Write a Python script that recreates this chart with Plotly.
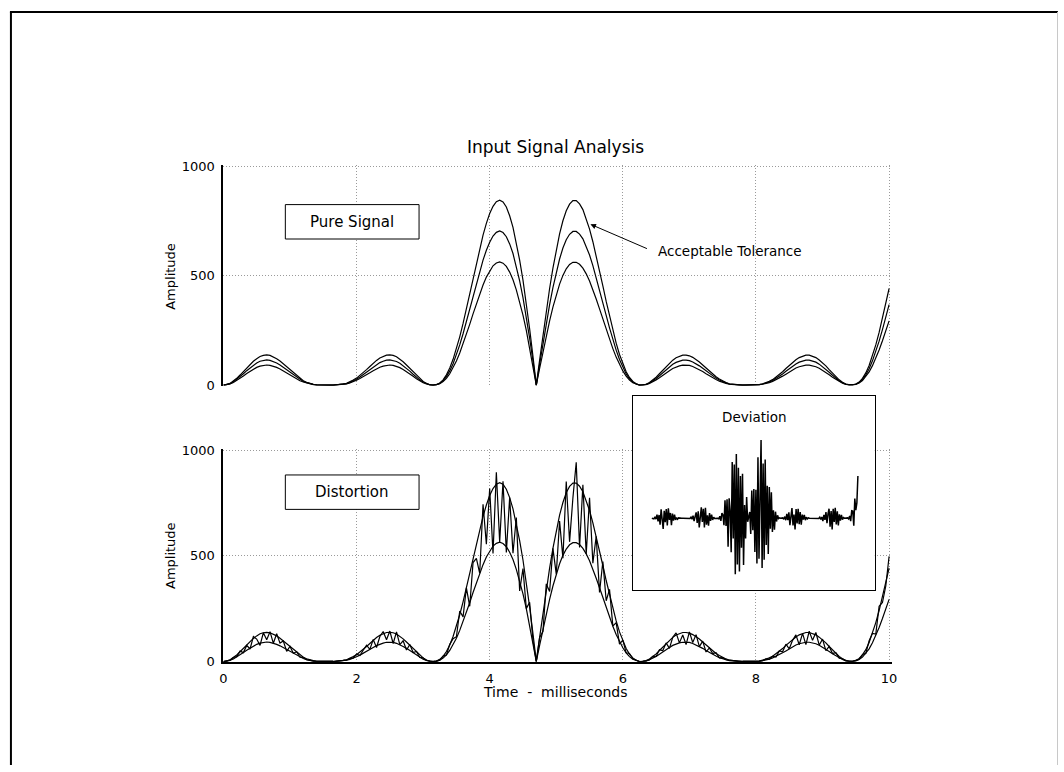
import numpy as np
import plotly.graph_objects as go

W, H = 1064, 772

# sample times (ms), 0.05 ms spacing
time_ms = np.linspace(0, 10, 201)

# nominal signal amplitude
pure_signal = [
    0, 2, 7, 15, 26, 38, 52, 66, 79, 91, 101, 109, 113, 115, 113, 108, 101, 92, 81, 69, 57, 46, 35, 25, 17, 11, 6, 3, 1, 0, 0, 0,
    0, 0, 1, 2, 4, 7, 12, 19, 27, 37, 48, 59, 71, 83, 94, 103, 109, 114, 115, 113, 108, 100, 89, 77, 64, 50, 36, 24, 14, 6, 1,
    0, 2, 8, 20, 39, 65, 98, 138, 184, 235, 290, 348, 407, 465, 521, 572, 617, 654, 682, 699, 705, 698, 679, 646, 602, 545, 477, 400, 312, 215, 110, 0,
    95, 190, 282, 368, 446, 516, 577, 627, 665, 690, 703, 703, 691, 669, 636, 595, 547, 493, 436, 378, 319, 262, 209, 160, 117, 81, 51, 29, 14, 5, 0,
    1, 3, 10, 19, 30, 43, 57, 70, 83, 95, 104, 110, 114, 114, 112, 106, 98, 88, 77, 65, 53, 42, 32, 23, 15, 10, 5, 3, 1, 0, 0, 0,
    0, 0, 1, 2, 5, 9, 14, 21, 30, 40, 51, 63, 75, 87, 97, 105, 111, 114, 114, 111, 105, 96, 85, 73, 59, 45, 32, 20, 11, 4, 1,
    1, 4, 12, 26, 47, 75, 111, 153, 201, 254, 310, 368,
]

# upper tolerance limit
tolerance_high = [
    0, 2, 8, 18, 31, 46, 62, 79, 95, 109, 121, 131, 136, 138, 136, 130, 121, 110, 97, 83, 68, 55, 42, 30, 20, 13, 7, 4, 1, 0, 0, 0,
    0, 0, 1, 2, 5, 8, 14, 23, 32, 44, 58, 71, 85, 100, 113, 124, 131, 137, 138, 136, 130, 120, 107, 92, 77, 60, 43, 29, 17, 7, 1,
    0, 2, 10, 24, 47, 78, 118, 166, 221, 282, 348, 418, 488, 558, 625, 686, 740, 785, 818, 839, 846, 838, 815, 775, 722, 654, 572, 480, 374, 258, 132, 0,
    114, 228, 338, 442, 535, 619, 692, 752, 798, 828, 844, 844, 829, 803, 763, 714, 656, 592, 523, 454, 383, 314, 251, 192, 140, 97, 61, 35, 17, 6, 0,
    1, 4, 12, 23, 36, 52, 68, 84, 100, 114, 125, 132, 137, 137, 134, 127, 118, 106, 92, 78, 64, 50, 38, 28, 18, 12, 6, 4, 1, 0, 0, 0,
    0, 0, 1, 2, 6, 11, 17, 25, 36, 48, 61, 76, 90, 104, 116, 126, 133, 137, 137, 133, 126, 115, 102, 88, 71, 54, 38, 24, 13, 5, 1,
    1, 5, 14, 31, 56, 90, 133, 184, 241, 305, 372, 442,
]

# lower tolerance limit
tolerance_low = [
    0, 2, 6, 12, 21, 30, 42, 53, 63, 73, 81, 87, 90, 92, 90, 86, 81, 74, 65, 55, 46, 37, 28, 20, 14, 9, 5, 2, 1, 0, 0, 0,
    0, 0, 1, 2, 3, 6, 10, 15, 22, 30, 38, 47, 57, 66, 75, 82, 87, 91, 92, 90, 86, 80, 71, 62, 51, 40, 29, 19, 11, 5, 1,
    0, 2, 6, 16, 31, 52, 78, 110, 147, 188, 232, 278, 326, 372, 417, 458, 494, 523, 546, 559, 564, 558, 543, 517, 482, 436, 382, 320, 250, 172, 88, 0,
    76, 152, 226, 294, 357, 413, 462, 502, 532, 552, 562, 562, 553, 535, 509, 476, 438, 394, 349, 302, 255, 210, 167, 128, 94, 65, 41, 23, 11, 4, 0,
    1, 2, 8, 15, 24, 34, 46, 56, 66, 76, 83, 88, 91, 91, 90, 85, 78, 70, 62, 52, 42, 34, 26, 18, 12, 8, 4, 2, 1, 0, 0, 0,
    0, 0, 1, 2, 4, 7, 11, 17, 24, 32, 41, 50, 60, 70, 78, 84, 89, 91, 91, 89, 84, 77, 68, 58, 47, 36, 26, 16, 9, 3, 1,
    1, 3, 10, 21, 38, 60, 89, 122, 161, 203, 248, 294,
]

# measured deviation from the nominal signal
deviation = [
    0, 0, -2, 4, -3, 11, -10, 10, -20, 27, 5, -33, 23, -12, 28, -22, 30, -5, 16, -21, 14, -7, 11, -5, 2, -3, 1, 0, 0, 0, 0, 0,
    0, 0, 0, -1, 1, -1, 3, -3, 8, -9, 5, 18, -14, 21, -28, 15, 33, -11, 29, -28, 32, -20, 9, -23, 16, -8, 11, -5, 3, -1, 0,
    0, 0, -2, 6, -8, 16, 10, -21, 55, -24, 58, -87, 61, 23, -104, 172, -62, 164, -171, 196, -141, 154, -163, 129, -90, 136, -143, 40, -62, 65, -11, 0,
    19, -48, 85, -37, 89, -103, 87, -138, 186, -124, 70, 239, -152, 167, -127, 179, -82, 99, -109, 95, -32, 79, -42, 24, -35, 20, -10, 9, -1, 1, 0,
    0, 1, -3, 5, -6, 13, -6, 18, -21, 19, 31, -22, 11, -34, 28, -16, 29, -18, 19, -20, 11, -4, 10, -6, 3, -2, 1, 0, 0, 0, 0, 0,
    0, 0, 0, 0, -1, 3, -4, 4, -9, 10, -5, 19, -15, 13, 29, -26, 22, -34, 29, -11, 32, -19, 21, -22, 12, -7, 10, -4, 2, 0, 0,
    0, 1, -2, 7, -9, 23, 22, -23, 60, 25, 47, 129,
]

# distorted signal = nominal + deviation
distortion = np.array(pure_signal) + np.array(deviation)

x_tick_vals = [0, 2, 4, 6, 8, 10]
x_tick_text = ["0", "2", "4", "6", "8", "10"]
y_tick_vals = [0, 500, 1000]
y_tick_text = ["0", "500", "1000"]

FONT = "DejaVu Sans"
INK = "black"
GRID = "#9a9a9a"


def px(x):
    return x / W


def py(y):
    return 1 - y / H


def x_domain(p0, p10, lo, hi):
    s = (p10 - p0) / 10.0
    return [px(p0 + lo * s), px(p0 + hi * s)]


def y_domain(p0, p1000, lo, hi):
    s = (p0 - p1000) / 1000.0
    return [py(p0 - lo * s), py(p0 - hi * s)]


X_RANGE = [0, 10.04]
Y_RANGE = [-3, 1007]
X0_PX, X10_PX = 221.5, 893.5

fig = go.Figure()

line = dict(color=INK, width=1.2)
for ys in (tolerance_high, pure_signal, tolerance_low):
    fig.add_trace(go.Scatter(x=time_ms, y=ys, mode="lines", line=line,
                             xaxis="x", yaxis="y", showlegend=False, hoverinfo="skip"))

for ys in (tolerance_high, tolerance_low):
    fig.add_trace(go.Scatter(x=time_ms, y=ys, mode="lines", line=line,
                             xaxis="x2", yaxis="y2", showlegend=False, hoverinfo="skip"))
fig.add_trace(go.Scatter(x=time_ms, y=distortion, mode="lines", line=line,
                         xaxis="x2", yaxis="y2", showlegend=False, hoverinfo="skip"))

fig.add_trace(go.Scatter(x=time_ms, y=deviation, mode="lines",
                         line=dict(color=INK, width=1.5),
                         xaxis="x3", yaxis="y3", showlegend=False, hoverinfo="skip"))

grid_common = dict(showgrid=True, gridcolor=GRID, gridwidth=1, griddash="1px,2px",
                   zeroline=False, ticks="", fixedrange=True)
tick_font = dict(family=FONT, size=13, color=INK)

# inset placement
IN_L, IN_R, IN_T, IN_B = 635, 879, 397, 594
IN_X0, IN_X10 = 654, 862
IN_BASE, IN_SCALE = 521, 0.333
inset_x_range = [(IN_L - IN_X0) / ((IN_X10 - IN_X0) / 10), 10 + (IN_R - IN_X10) / ((IN_X10 - IN_X0) / 10)]
inset_y_range = [-(IN_B - IN_BASE) / IN_SCALE, (IN_BASE - IN_T) / IN_SCALE]

fig.update_layout(
    width=W, height=H,
    margin=dict(l=0, r=0, t=0, b=0),
    paper_bgcolor="white", plot_bgcolor="white",
    font=dict(family=FONT, color=INK),
    xaxis=dict(domain=x_domain(X0_PX, X10_PX, *X_RANGE), range=X_RANGE, anchor="y",
               tickvals=x_tick_vals, showticklabels=False, showline=False, **grid_common),
    yaxis=dict(domain=y_domain(385.6, 163.3, *Y_RANGE), range=Y_RANGE, anchor="x",
               tickvals=y_tick_vals, ticktext=y_tick_text, tickfont=tick_font,
               ticklabelstandoff=4,
               showline=True, linecolor=INK, linewidth=2, **grid_common),
    xaxis2=dict(domain=x_domain(X0_PX, X10_PX, *X_RANGE), range=X_RANGE, anchor="y2",
                tickvals=x_tick_vals, ticktext=x_tick_text, tickfont=tick_font,
                ticklabelstandoff=3,
                showline=True, linecolor=INK, linewidth=2, **grid_common),
    yaxis2=dict(domain=y_domain(666.7, 451.7, *Y_RANGE), range=Y_RANGE, anchor="x2",
                tickvals=y_tick_vals, ticktext=y_tick_text, tickfont=tick_font,
                ticklabelstandoff=4,
                showline=True, linecolor=INK, linewidth=2, **grid_common),
    xaxis3=dict(domain=[px(IN_L), px(IN_R)], range=inset_x_range, anchor="y3",
                showgrid=False, zeroline=False, showticklabels=False, ticks="",
                showline=True, mirror=True, linecolor=INK, linewidth=1, fixedrange=True),
    yaxis3=dict(domain=[py(IN_B), py(IN_T)], range=inset_y_range, anchor="x3",
                showgrid=False, zeroline=False, showticklabels=False, ticks="",
                showline=True, mirror=True, linecolor=INK, linewidth=1, fixedrange=True),
)

shapes = [
    # page frame
    dict(type="line", x0=px(7), x1=px(7), y0=py(6), y1=0, line=dict(color=INK, width=2)),
    dict(type="line", x0=px(6), x1=1, y0=py(6), y1=py(6), line=dict(color=INK, width=2)),
    dict(type="line", x0=px(1063.5), x1=px(1063.5), y0=py(6), y1=0, line=dict(color="#c8c8c8", width=1)),
    # label boxes
    dict(type="rect", x0=px(284), x1=px(419), y0=py(202), y1=py(237),
         line=dict(color=INK, width=1), fillcolor="white", layer="above"),
    dict(type="rect", x0=px(284), x1=px(419), y0=py(477), y1=py(512),
         line=dict(color=INK, width=1), fillcolor="white", layer="above"),
]
for s in shapes:
    s.update(xref="paper", yref="paper")
fig.update_layout(shapes=shapes)


def label(text, x, y, size=13, angle=0, xanchor="center"):
    return dict(text=text, x=px(x), y=py(y), xref="paper", yref="paper",
                xanchor=xanchor, yanchor="middle", showarrow=False, textangle=angle,
                font=dict(family=FONT, size=size, color=INK))


annotations = [
    label("Input Signal Analysis", 557, 143, size=17),
    label("Amplitude", 168, 275, size=13, angle=-90),
    label("Amplitude", 168, 559, size=13, angle=-90),
    label("Pure Signal", 351.5, 220, size=15),
    label("Distortion", 351.5, 494.5, size=15),
    label("Acceptable Tolerance", 658, 249, size=13.5, xanchor="left"),
    label("Deviation", 758, 418, size=13.5),
    label("Time  -  milliseconds", 557, 698, size=14),
    dict(text="", x=px(592), y=py(222), xref="paper", yref="paper",
         showarrow=True, ax=58, ay=25, axref="pixel", ayref="pixel",
         arrowhead=2, arrowsize=1.1, arrowwidth=1, arrowcolor=INK, standoff=0),
]
fig.update_layout(annotations=annotations)

fig.write_html("out.html")
